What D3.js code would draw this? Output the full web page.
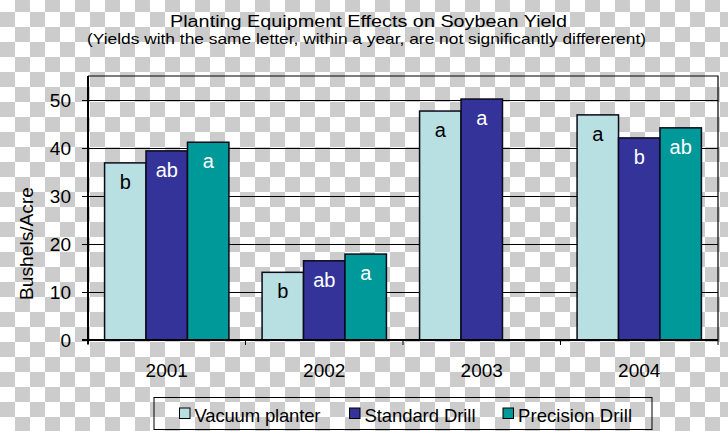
<!DOCTYPE html>
<html>
<head>
<meta charset="utf-8">
<script src="https://cdn.jsdelivr.net/npm/d3@7"></script>
<style>
  html, body { margin: 0; padding: 0; background: #fff; }
  svg { display: block; font-family: "Liberation Sans", Arial, sans-serif; }
</style>
</head>
<body>
<svg id="chart" width="728" height="431"></svg>
<script>
// ---- data ----
const years = ["2001", "2002", "2003", "2004"];
const seriesNames = ["Vacuum planter", "Standard Drill", "Precision Drill"];
const vacuumPlanter = [36.9, 14.1, 47.7, 46.9];
const standardDrill = [39.4, 16.5, 50.2, 42.1];
const precisionDrill = [41.2, 17.9, null, 44.2];
const vacuumLetters = ["b", "b", "a", "a"];
const standardLetters = ["ab", "ab", "a", "b"];
const precisionLetters = ["a", "a", "", "ab"];
const yTicks = [0, 10, 20, 30, 40, 50];
const seriesColors = ["#b8dfe2", "#333399", "#00999a"];
const letterColors = ["#000000", "#ffffff", "#ffffff"];

const W = 728, H = 431;
const plot = { left: 88, right: 718, top: 76, bottom: 340 };

const svg = d3.select("#chart");

// checkered (transparent) background
const defs = svg.append("defs");
const pat = defs.append("pattern").attr("id", "checker")
  .attr("patternUnits", "userSpaceOnUse")
  .attr("x", 0).attr("y", -3).attr("width", 30).attr("height", 30);
pat.append("rect").attr("width", 30).attr("height", 30).attr("fill", "#ffffff");
pat.append("rect").attr("x", 15).attr("y", 0).attr("width", 15).attr("height", 15).attr("fill", "#cccccc");
pat.append("rect").attr("x", 0).attr("y", 15).attr("width", 15).attr("height", 15).attr("fill", "#cccccc");
svg.append("rect").attr("width", W).attr("height", H).attr("fill", "url(#checker)");

// scales
const y = d3.scaleLinear().domain([0, 55]).range([plot.bottom, plot.top]);
const x0 = d3.scaleBand().domain(years).range([plot.left, plot.right]).paddingInner(0).paddingOuter(0);
const x1 = d3.scaleBand().domain(seriesNames).range([0, x0.bandwidth()]).paddingInner(0).paddingOuter(0.4);

const seriesValues = [vacuumPlanter, standardDrill, precisionDrill];
const seriesLetters = [vacuumLetters, standardLetters, precisionLetters];

// gridlines
svg.append("g")
  .attr("transform", `translate(${plot.left},0)`)
  .call(d3.axisLeft(y).tickValues(yTicks.filter(d => d > 0)).tickSize(-(plot.right - plot.left)).tickFormat(""))
  .call(g => g.select(".domain").remove())
  .call(g => g.selectAll("line").attr("stroke", "#000").attr("stroke-width", 1));

// plot border (top & right)
svg.append("path")
  .attr("d", `M${plot.left},${plot.top}H${plot.right}V${plot.bottom}`)
  .attr("fill", "none").attr("stroke", "#000").attr("stroke-width", 1.2);

// bars
const rows = [];
years.forEach((yr, i) => {
  seriesNames.forEach((s, j) => {
    const v = seriesValues[j][i];
    if (v != null) rows.push({ yr, s, j, v, letter: seriesLetters[j][i] });
  });
});

svg.append("g").selectAll("rect").data(rows).join("rect")
  .attr("x", d => x0(d.yr) + x1(d.s))
  .attr("y", d => y(d.v))
  .attr("width", x1.bandwidth())
  .attr("height", d => y(0) - y(d.v))
  .attr("fill", d => seriesColors[d.j])
  .attr("stroke", "#0a0a1a").attr("stroke-width", 1.5);

svg.append("g").selectAll("text").data(rows.filter(d => d.letter)).join("text")
  .attr("x", d => x0(d.yr) + x1(d.s) + x1.bandwidth() / 2)
  .attr("y", d => y(d.v) + 26)
  .attr("text-anchor", "middle")
  .attr("font-size", 20)
  .attr("fill", d => letterColors[d.j])
  .text(d => d.letter);

// y axis
svg.append("g")
  .attr("transform", `translate(${plot.left},0)`)
  .call(d3.axisLeft(y).tickValues(yTicks).tickSize(6).tickPadding(11))
  .call(g => g.select(".domain").remove())
  .call(g => g.selectAll("line").attr("stroke", "#000").attr("stroke-width", 1))
  .call(g => g.selectAll("text").attr("font-size", 19).attr("fill", "#000")
    .attr("font-family", "Liberation Sans, Arial, sans-serif"));

svg.append("line")
  .attr("x1", plot.left).attr("x2", plot.left)
  .attr("y1", plot.top).attr("y2", plot.bottom + 4)
  .attr("stroke", "#000").attr("stroke-width", 2);

// x axis
const boundaries = years.map(d => x0(d)).concat([x0(years[years.length - 1]) + x0.bandwidth()]);
svg.append("g").selectAll("line").data(boundaries).join("line")
  .attr("x1", d => d).attr("x2", d => d)
  .attr("y1", plot.bottom).attr("y2", plot.bottom + 5)
  .attr("stroke", "#000").attr("stroke-width", 1);

svg.append("g")
  .attr("transform", `translate(0,${plot.bottom})`)
  .call(d3.axisBottom(x0).tickSize(0).tickPadding(23.5))
  .call(g => g.select(".domain").remove())
  .call(g => g.selectAll("text").attr("font-size", 19).attr("fill", "#000")
    .attr("font-family", "Liberation Sans, Arial, sans-serif"));

svg.append("line")
  .attr("x1", plot.left - 6).attr("x2", plot.right)
  .attr("y1", plot.bottom).attr("y2", plot.bottom)
  .attr("stroke", "#000").attr("stroke-width", 2);

// y axis title
svg.append("text")
  .attr("transform", "translate(33,243.5) rotate(-90)")
  .attr("text-anchor", "middle")
  .attr("font-size", 18)
  .attr("textLength", 113).attr("lengthAdjust", "spacingAndGlyphs")
  .text("Bushels/Acre");

// titles
svg.append("text")
  .attr("x", 368.5).attr("y", 27)
  .attr("text-anchor", "middle").attr("font-size", 17)
  .attr("textLength", 397).attr("lengthAdjust", "spacingAndGlyphs")
  .text("Planting Equipment Effects on Soybean Yield");
svg.append("text")
  .attr("x", 366.5).attr("y", 43.5)
  .attr("text-anchor", "middle").attr("font-size", 15)
  .attr("textLength", 559).attr("lengthAdjust", "spacingAndGlyphs")
  .text("(Yields with the same letter, within a year, are not significantly differerent)");

// legend
const legend = svg.append("g");
legend.append("rect")
  .attr("x", 154).attr("y", 397.5).attr("width", 498).attr("height", 32)
  .attr("fill", "none").attr("stroke", "#000").attr("stroke-width", 1);
const legendX = [179.5, 349.5, 503];
const legendW = [126, 111, 114];
const li = legend.selectAll("g.item").data(seriesNames).join("g")
  .attr("class", "item")
  .attr("transform", (d, i) => `translate(${legendX[i]},0)`);
li.append("rect")
  .attr("x", 0).attr("y", 408).attr("width", 10.5).attr("height", 10.5)
  .attr("fill", (d, i) => seriesColors[i]).attr("stroke", "#000").attr("stroke-width", 1);
li.append("text")
  .attr("x", 15).attr("y", 421.5)
  .attr("font-size", 18.5)
  .attr("textLength", (d, i) => legendW[i]).attr("lengthAdjust", "spacing")
  .text(d => d);
</script>
</body>
</html>
